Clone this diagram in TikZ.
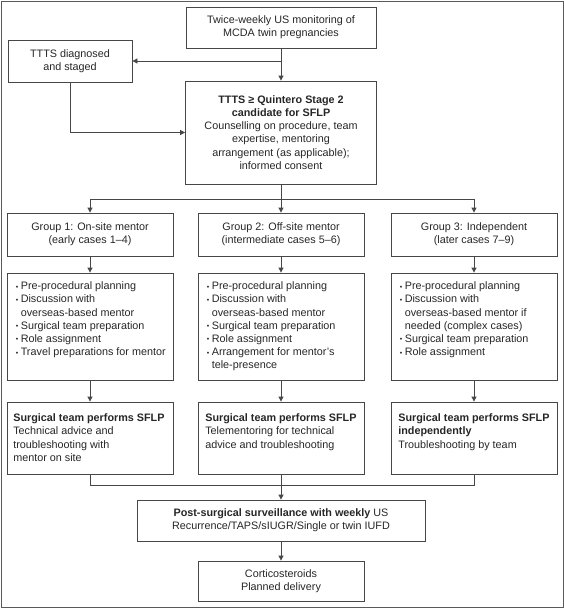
\documentclass[tikz,border=0pt]{standalone}
\usepackage{fontspec}
\setmainfont{Liberation Sans}
\usetikzlibrary{arrows.meta}
\definecolor{linec}{HTML}{474747}
\definecolor{framec}{HTML}{5A5A5A}
\definecolor{txtc}{HTML}{262626}
\newcommand{\bul}{\makebox[5pt][l]{\raisebox{0.6pt}{\fontsize{7}{7}\selectfont •}}}
\newcommand{\ind}{\hspace*{5pt}}
\begin{document}
\begin{tikzpicture}[x=1pt,y=-1pt,
  box/.style={draw=linec, line width=0.8pt, inner sep=0pt, align=center,
    text=txtc, font=\fontsize{10.8}{13.2}\selectfont},
  txt/.style={inner sep=0pt, align=left, text=txtc, anchor=north west,
    font=\fontsize{10.8}{13.2}\selectfont},
  arr/.style={draw=linec, line width=0.8pt, -{Triangle[length=5pt,width=5pt]}},
  ln/.style={draw=linec, line width=0.8pt}]
\useasboundingbox (0,0) rectangle (564,608);
\draw[framec, line width=1pt] (1,1) rectangle (563,607);

\node[box, minimum width=190pt, minimum height=41pt] (top) at (281,27.5)
  {Twice-weekly US monitoring of\\MCDA twin pregnancies};
\node[box, minimum width=124pt, minimum height=42pt] (diag) at (70,61)
  {TTTS diagnosed\\and staged};
\node[box, minimum width=191pt, minimum height=103pt] (main) at (281,132.5)
  {\textbf{TTTS ≥ Quintero Stage 2}\\\textbf{candidate for SFLP}\\Counselling on procedure, team\\expertise, mentoring\\arrangement (as applicable);\\informed consent};

\node[box, minimum width=166pt, minimum height=43pt] (g1) at (90,234.5)
  {Group 1: On-site mentor\\(early cases 1–4)};
\node[box, minimum width=166pt, minimum height=43pt] (g2) at (281,234.5)
  {Group 2: Off-site mentor\\(intermediate cases 5–6)};
\node[box, minimum width=166pt, minimum height=43pt] (g3) at (474,234.5)
  {Group 3: Independent\\(later cases 7–9)};

\node[box, minimum width=166pt, minimum height=107pt] (b1) at (90,326.5) {};
\node[box, minimum width=166pt, minimum height=107pt] (b2) at (281,326.5) {};
\node[box, minimum width=166pt, minimum height=107pt] (b3) at (474,326.5) {};
\node[txt] (b1t) at ([xshift=9pt,yshift=-9pt]b1.north west)
  {\bul Pre-procedural planning\\\bul Discussion with\\\ind overseas-based mentor\\\bul Surgical team preparation\\\bul Role assignment\\\bul Travel preparations for mentor};
\node[txt] (b2t) at ([xshift=9pt,yshift=-9pt]b2.north west)
  {\bul Pre-procedural planning\\\bul Discussion with\\\ind overseas-based mentor\\\bul Surgical team preparation\\\bul Role assignment\\\bul Arrangement for mentor’s\\\ind tele-presence};
\node[txt] (b3t) at ([xshift=9pt,yshift=-9pt]b3.north west)
  {\bul Pre-procedural planning\\\bul Discussion with\\\ind overseas-based mentor if\\\ind needed (complex cases)\\\bul Surgical team preparation\\\bul Role assignment};

\node[box, minimum width=166pt, minimum height=72pt] (s1) at (90,438) {};
\node[box, minimum width=166pt, minimum height=72pt] (s2) at (281,438) {};
\node[box, minimum width=166pt, minimum height=72pt] (s3) at (474,438) {};
\node[txt] (s1t) at ([xshift=6.5pt,yshift=-12pt]s1.north west)
  {\textbf{Surgical team performs SFLP}\\Technical advice and\\troubleshooting with\\mentor on site};
\node[txt] (s2t) at ([xshift=7.5pt,yshift=-12pt]s2.north west)
  {\textbf{Surgical team performs SFLP}\\Telementoring for technical\\advice and troubleshooting};
\node[txt] (s3t) at ([xshift=7.5pt,yshift=-12pt]s3.north west)
  {\textbf{Surgical team performs SFLP}\\\textbf{independently}\\Troubleshooting by team};

\node[box, minimum width=288pt, minimum height=41pt] (post) at (281,520.5)
  {\textbf{Post-surgical surveillance with weekly} US\\Recurrence/TAPS/sIUGR/Single or twin IUFD};
\node[box, minimum width=166pt, minimum height=40pt] (fin) at (281,581)
  {Corticosteroids\\Planned delivery};

\coordinate (j1) at (281,61);
\coordinate (j2) at (281,199);
\coordinate (j3) at (281,485);

\draw[arr] (top.south) -- (main.north);
\draw[arr] (j1) -- (diag.east);
\draw[arr] (diag.south) |- (main.west);
\draw[ln] (main.south) -- (j2);
\draw[arr] (j2) -| (g1.north);
\draw[arr] (j2) -- (g2.north);
\draw[arr] (j2) -| (g3.north);
\foreach \i in {1,2,3}{
  \draw[arr] (g\i.south) -- (b\i.north);
  \draw[arr] (b\i.south) -- (s\i.north);
}
\draw[ln] (s1.south) |- (s3.south |- j3) -- (s3.south);
\draw[arr] (s2.south) -- (post.north);
\draw[arr] (post.south) -- (fin.north);
\end{tikzpicture}
\end{document}
